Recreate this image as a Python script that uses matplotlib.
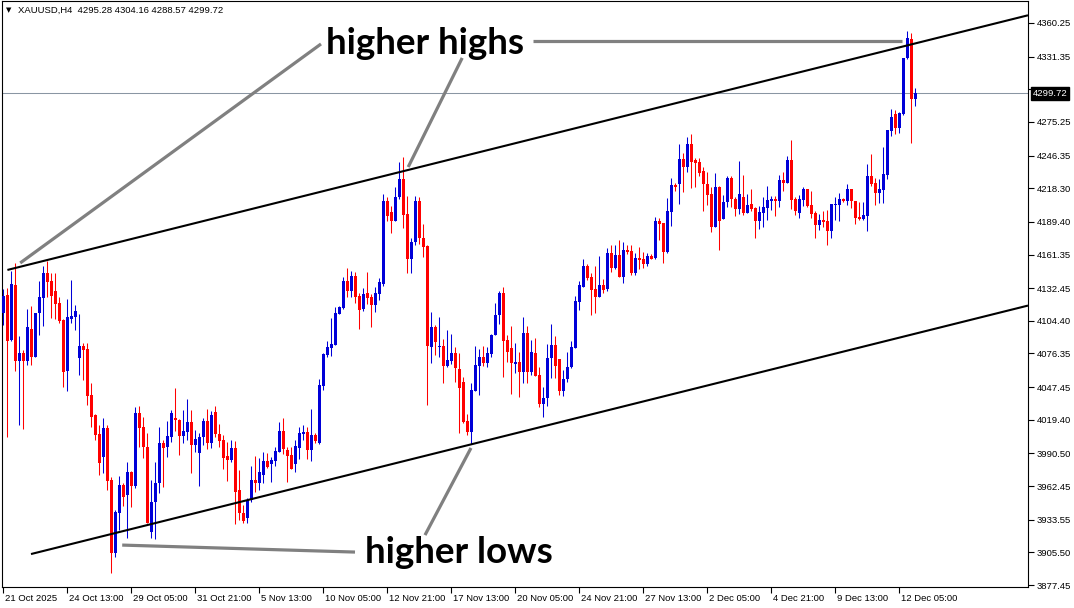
import matplotlib.pyplot as plt
from matplotlib.transforms import blended_transform_factory

# XAUUSD H4 candles, 21 Oct 2025 21:00 -> 12 Dec 2025 21:00
opens = [
    4111.4, 4126.6, 4087.9, 4135.2, 4070.2, 4076.5, 4070.2, 4097.1, 4073.6, 4110.9,
    4124.3, 4145.2, 4138.6, 4130.0, 4120.0, 4105.1, 4061.6, 4106.0, 4108.0, 4072.8,
    4082.8, 4080.2, 4040.7, 4023.5, 4007.2, 3987.7, 4012.1, 3967.7, 3905.3, 3939.6,
    3963.4, 3954.8, 3974.9, 3962.8, 4024.9, 4012.9, 3995.8, 3923.3, 3948.5, 3964.8,
    3999.5, 3995.8, 4004.9, 4021.0, 4019.2, 4005.5, 4009.2, 4017.2, 3997.8, 3990.6,
    4004.3, 4018.4, 3999.2, 4025.8, 4007.2, 4002.1, 3988.6, 3984.9, 3995.5, 3959.1,
    3939.6, 3934.8, 3950.5, 3967.7, 3965.4, 3972.0, 3984.0, 3981.4, 3984.0, 3992.0,
    4009.8, 3993.5, 3989.2, 3981.4, 3995.5, 4007.2, 4008.9, 3993.5, 4006.4, 3999.8,
    4048.7, 4075.1, 4081.4, 4083.7, 4110.3, 4115.7, 4138.6, 4130.3, 4142.9, 4126.0,
    4114.3, 4128.0, 4125.2, 4118.0, 4127.8, 4136.1, 4207.6, 4198.2, 4190.2, 4210.5,
    4226.2, 4196.2, 4157.5, 4171.8, 4207.6, 4175.8, 4169.0, 4082.2, 4099.4, 4081.9,
    4082.8, 4065.9, 4070.2, 4077.1, 4063.1, 4051.6, 4018.4, 4009.2, 4044.4, 4065.9,
    4073.1, 4068.5, 4075.6, 4092.2, 4109.4, 4128.6, 4088.0, 4080.8, 4067.0, 4069.4,
    4060.8, 4094.3, 4060.2, 4077.1, 4057.9, 4033.0, 4037.9, 4072.2, 4083.7, 4071.3,
    4044.4, 4054.2, 4065.1, 4081.4, 4120.9, 4133.8, 4151.8, 4142.4, 4131.8, 4125.2,
    4135.2, 4131.8, 4162.4, 4150.1, 4161.0, 4142.4, 4165.3, 4164.4, 4145.2, 4158.7,
    4157.5, 4153.2, 4160.4, 4158.7, 4190.2, 4188.2, 4163.3, 4197.9, 4221.1, 4221.9,
    4243.4, 4236.8, 4256.3, 4242.6, 4240.6, 4233.1, 4221.7, 4213.4, 4185.3, 4219.1,
    4191.6, 4206.8, 4227.4, 4209.1, 4200.8, 4210.5, 4197.3, 4204.5, 4201.6, 4190.5,
    4197.3, 4201.0, 4207.6, 4209.1, 4207.6, 4225.4, 4223.1, 4242.6, 4209.1, 4197.3,
    4208.2, 4217.7, 4203.9, 4196.8, 4186.7, 4191.0, 4190.2, 4181.6, 4204.2, 4204.2,
    4208.8, 4207.6, 4217.7, 4207.4, 4193.3, 4191.9, 4194.7, 4228.8, 4223.1, 4214.5,
    4216.8, 4229.7, 4267.8, 4282.1, 4270.3, 4281.8, 4329.9, 4346.5, 4295.28,
]
highs = [
    4131.8, 4132.3, 4147.5, 4153.8, 4091.4, 4079.4, 4114.3, 4117.1, 4110.8, 4138.6,
    4151.5, 4156.1, 4145.2, 4145.2, 4124.6, 4105.7, 4122.9, 4139.5, 4118.0, 4110.3,
    4085.1, 4085.1, 4050.7, 4024.4, 4014.9, 4020.7, 4014.9, 3970.6, 3941.9, 3971.1,
    3965.4, 3983.4, 3975.7, 4030.7, 4031.3, 4022.1, 4007.8, 3967.7, 3983.4, 4013.5,
    4002.1, 4018.6, 4027.8, 4047.0, 4019.8, 4027.8, 4037.0, 4027.8, 4010.6, 4007.8,
    4020.7, 4028.7, 4027.3, 4031.3, 4015.8, 4006.4, 4000.6, 4002.1, 4001.2, 3976.3,
    3946.2, 3951.9, 3980.0, 3988.3, 3986.9, 3992.0, 3991.2, 3987.7, 3996.3, 4017.2,
    4020.7, 3996.3, 3996.3, 4002.1, 4012.9, 4014.9, 4012.9, 4028.7, 4007.8, 4054.2,
    4076.5, 4087.1, 4106.6, 4116.6, 4117.2, 4142.3, 4150.1, 4147.2, 4146.6, 4128.0,
    4132.9, 4146.1, 4127.5, 4133.8, 4140.9, 4213.1, 4211.1, 4203.3, 4219.7, 4240.6,
    4245.4, 4211.6, 4175.8, 4211.6, 4211.1, 4187.6, 4169.6, 4111.7, 4100.8, 4108.0,
    4088.5, 4096.5, 4093.1, 4081.7, 4076.5, 4055.9, 4024.4, 4050.7, 4083.1, 4079.9,
    4083.1, 4081.7, 4092.8, 4119.5, 4130.3, 4133.8, 4092.2, 4100.0, 4085.1, 4077.9,
    4108.0, 4100.3, 4088.0, 4089.4, 4065.1, 4047.9, 4084.2, 4101.7, 4091.4, 4071.3,
    4062.2, 4077.9, 4087.4, 4125.8, 4138.9, 4157.2, 4152.9, 4145.8, 4151.8, 4160.1,
    4140.1, 4167.3, 4169.6, 4169.6, 4173.9, 4171.8, 4169.6, 4169.6, 4163.0, 4168.1,
    4163.8, 4163.0, 4161.5, 4193.3, 4192.5, 4188.7, 4209.6, 4226.8, 4222.5, 4256.3,
    4248.3, 4262.6, 4264.9, 4244.6, 4244.6, 4236.8, 4232.0, 4219.7, 4231.7, 4220.2,
    4212.5, 4229.1, 4228.8, 4211.1, 4241.7, 4229.7, 4213.4, 4217.4, 4201.9, 4203.0,
    4210.5, 4220.2, 4211.9, 4211.9, 4229.7, 4232.0, 4246.0, 4259.7, 4210.5, 4212.5,
    4219.1, 4217.7, 4215.9, 4199.0, 4195.9, 4198.8, 4199.6, 4204.8, 4211.1, 4213.9,
    4209.6, 4221.9, 4217.7, 4207.4, 4206.8, 4206.8, 4238.8, 4247.7, 4226.8, 4226.3,
    4253.5, 4268.3, 4286.1, 4285.5, 4284.1, 4330.5, 4353.4, 4351.4, 4304.16,
]
lows = [
    4100.8, 4004.9, 4087.4, 4061.6, 4014.9, 4011.5, 4066.5, 4066.5, 4073.1, 4092.2,
    4100.0, 4125.2, 4106.6, 4105.7, 4102.8, 4047.9, 4044.4, 4102.8, 4096.5, 4057.9,
    4053.6, 4032.1, 4013.5, 4002.1, 3972.0, 3974.0, 3959.1, 3887.5, 3901.3, 3924.8,
    3945.4, 3917.6, 3944.8, 3960.5, 3996.3, 3986.3, 3931.0, 3917.6, 3916.7, 3956.3,
    3961.4, 3987.7, 4000.6, 4010.1, 3989.2, 3999.2, 4002.1, 3973.4, 3992.0, 3962.8,
    3997.8, 3994.0, 3994.9, 4004.9, 3996.3, 3976.9, 3967.1, 3982.9, 3929.9, 3933.3,
    3930.5, 3930.5, 3949.1, 3957.1, 3959.1, 3964.8, 3977.7, 3965.7, 3980.0, 3992.0,
    3989.7, 3966.3, 3977.2, 3974.9, 3986.0, 4002.1, 3985.5, 3984.3, 3999.2, 3998.6,
    4045.0, 4073.6, 4074.5, 4083.7, 4110.3, 4114.6, 4125.2, 4125.2, 4120.0, 4097.4,
    4112.9, 4118.9, 4099.4, 4112.3, 4122.3, 4134.6, 4190.2, 4180.1, 4190.2, 4208.8,
    4184.4, 4145.8, 4145.8, 4169.6, 4170.4, 4159.5, 4032.1, 4068.5, 4075.1, 4073.1,
    4050.7, 4065.1, 4067.0, 4052.2, 4007.8, 4016.4, 4006.4, 3998.6, 4044.4, 4040.7,
    4065.9, 4065.1, 4073.6, 4092.2, 4101.4, 4055.9, 4069.4, 4041.6, 4059.3, 4039.3,
    4051.3, 4050.7, 4057.9, 4057.0, 4030.1, 4022.1, 4031.3, 4055.0, 4055.0, 4040.7,
    4040.2, 4052.2, 4063.6, 4080.8, 4113.7, 4133.8, 4139.5, 4109.4, 4111.4, 4124.6,
    4128.6, 4130.0, 4146.6, 4149.0, 4142.4, 4137.2, 4161.5, 4143.8, 4143.8, 4148.7,
    4149.5, 4151.8, 4157.2, 4157.5, 4173.9, 4153.8, 4163.0, 4185.9, 4216.2, 4204.8,
    4215.4, 4232.5, 4218.8, 4219.7, 4228.8, 4199.0, 4203.9, 4181.0, 4184.7, 4165.3,
    4191.6, 4202.5, 4201.9, 4194.5, 4196.2, 4195.3, 4197.3, 4199.0, 4175.3, 4183.0,
    4185.3, 4191.0, 4199.6, 4194.8, 4201.9, 4216.2, 4222.5, 4200.2, 4195.3, 4192.5,
    4203.0, 4201.9, 4192.5, 4175.8, 4182.4, 4185.3, 4169.6, 4175.8, 4191.0, 4190.2,
    4206.8, 4203.9, 4201.0, 4187.6, 4191.0, 4191.0, 4181.9, 4220.2, 4203.9, 4205.3,
    4205.3, 4226.0, 4263.2, 4264.6, 4265.5, 4281.2, 4329.0, 4257.5, 4288.57,
]
closes = [
    4125.7, 4087.4, 4136.1, 4070.2, 4076.5, 4070.2, 4098.8, 4073.6, 4110.8, 4124.6,
    4145.2, 4138.0, 4125.7, 4118.9, 4104.3, 4060.7, 4108.0, 4108.6, 4112.9, 4082.8,
    4079.4, 4040.1, 4022.1, 4006.4, 3982.0, 4012.1, 3967.1, 3905.3, 3940.2, 3963.4,
    3953.4, 3974.6, 3962.8, 4025.5, 4012.7, 3995.8, 3931.0, 3948.5, 3964.8, 3999.5,
    3995.5, 4005.5, 4025.0, 4019.2, 4005.5, 4009.8, 4017.2, 3997.8, 4002.9, 4004.6,
    4018.4, 3999.2, 4023.5, 4006.9, 4001.2, 3986.9, 3984.9, 3995.5, 3957.7, 3939.1,
    3932.8, 3950.5, 3967.7, 3965.4, 3974.9, 3984.0, 3979.2, 3984.9, 3992.6, 4009.8,
    3994.0, 3988.6, 3977.2, 3996.9, 4008.4, 4008.9, 3993.5, 4006.4, 4001.5, 4049.3,
    4075.6, 4081.6, 4084.5, 4111.4, 4116.6, 4138.9, 4130.3, 4142.9, 4125.2, 4113.7,
    4127.5, 4124.3, 4118.0, 4128.0, 4137.8, 4207.6, 4194.5, 4190.5, 4211.1, 4226.2,
    4195.3, 4157.5, 4171.8, 4207.6, 4175.3, 4168.1, 4083.1, 4098.8, 4085.9, 4082.8,
    4065.9, 4070.8, 4077.1, 4063.6, 4046.4, 4017.8, 4009.2, 4045.0, 4066.5, 4073.1,
    4067.9, 4077.1, 4092.2, 4109.4, 4128.6, 4087.4, 4077.9, 4068.5, 4068.8, 4060.8,
    4094.3, 4060.2, 4077.4, 4057.3, 4033.0, 4038.4, 4072.8, 4083.7, 4065.9, 4044.4,
    4054.5, 4065.1, 4081.7, 4121.5, 4135.2, 4151.5, 4141.5, 4130.9, 4125.2, 4135.2,
    4130.9, 4162.4, 4150.1, 4161.0, 4142.4, 4165.3, 4163.8, 4145.2, 4158.7, 4156.7,
    4153.2, 4160.1, 4157.5, 4190.2, 4187.6, 4163.8, 4198.8, 4221.1, 4219.7, 4243.4,
    4236.8, 4256.3, 4240.6, 4240.3, 4231.7, 4221.7, 4212.5, 4185.3, 4219.1, 4190.5,
    4206.8, 4226.8, 4208.8, 4200.8, 4213.4, 4197.3, 4203.9, 4200.8, 4190.5, 4197.9,
    4201.9, 4208.2, 4209.1, 4207.6, 4225.4, 4223.1, 4242.6, 4208.2, 4199.0, 4209.1,
    4217.7, 4203.3, 4196.2, 4186.7, 4191.0, 4189.6, 4181.6, 4204.8, 4204.8, 4209.1,
    4207.3, 4217.7, 4207.6, 4193.0, 4191.9, 4195.3, 4228.8, 4221.9, 4214.5, 4217.7,
    4230.6, 4268.3, 4279.8, 4270.3, 4283.2, 4330.5, 4347.6, 4294.7, 4299.72,
]

date_labels = ['21 Oct 2025', '24 Oct 13:00', '29 Oct 05:00', '31 Oct 21:00', '5 Nov 13:00',
               '10 Nov 05:00', '12 Nov 21:00', '17 Nov 13:00', '20 Nov 05:00', '24 Nov 21:00',
               '27 Nov 13:00', '2 Dec 05:00', '4 Dec 21:00', '9 Dec 13:00', '12 Dec 05:00']
date_bars = [0, 16, 32, 48, 64, 80, 96, 112, 128, 144, 160, 176, 192, 208, 224]
price_ticks = [3877.45, 3905.50, 3933.55, 3962.45, 3990.50, 4019.40, 4047.45, 4076.35, 4104.40,
               4132.45, 4161.35, 4189.40, 4218.30, 4246.35, 4275.25, 4303.30, 4331.35, 4360.25]
last_price = 4299.72

# channel rays: two anchors each (bar index, price)
upper_channel = [(1.0, 4148.1), (214.0, 4330.7)]
lower_channel = [(6.9, 3904.1), (85.5, 3971.4)]

# annotation pointer lines (bar index, price)
highs_pointers = [[(4.2, 4154.1), (79.4, 4342.2)],
                  [(114.7, 4330.2), (101.2, 4236.5)],
                  [(132.4, 4344.8), (224.7, 4344.8)]]
lows_pointers = [[(29.7, 3911.8), (87.9, 3905.8)],
                 [(105.4, 3920.4), (116.9, 3995.2)]]

BLUE = '#0000d8'
RED = '#ff0000'
small = dict(family='Liberation Sans', fontsize=6.8)

fig = plt.figure(figsize=(10.74, 6.08), dpi=100)
ax = fig.add_axes([2 / 1074, 21 / 608, 1026 / 1074, 586 / 608])

n = len(opens)
x = list(range(n))
cols = [BLUE if c >= o else RED for o, c in zip(opens, closes)]
ax.vlines(x, lows, highs, colors=cols, lw=0.75, zorder=2)
bottoms = [min(o, c) for o, c in zip(opens, closes)]
heights = [max(abs(c - o), 0.9) for o, c in zip(opens, closes)]
ax.bar(x, heights, bottom=bottoms, width=0.68, color=cols, linewidth=0, zorder=3)

xmin, xmax = -0.35, 256.15
ax.set_xlim(xmin, xmax)
ax.set_ylim(3875.8, 4379.1)

for (x0, y0), (x1, y1) in (upper_channel, lower_channel):
    k = (y1 - y0) / (x1 - x0)
    ax.plot([x0, xmax], [y0, y0 + k * (xmax - x0)], color='black', lw=1.5,
            solid_capstyle='butt', zorder=4)

for seg in highs_pointers + lows_pointers:
    ax.plot([seg[0][0], seg[1][0]], [seg[0][1], seg[1][1]], color='#808080', lw=2.3,
            solid_capstyle='butt', zorder=4)

ax.text(105.4, 4342.5, 'higher highs', family='Lato', fontweight='bold', fontsize=26.5,
        ha='center', va='center', zorder=5)
ax.text(113.8, 3905.5, 'higher lows', family='Lato', fontweight='bold', fontsize=26.5,
        ha='center', va='center', zorder=5)

# bid line and price box
ax.axhline(last_price, color='#8a96a3', lw=0.75, zorder=1)

for s in ax.spines.values():
    s.set_linewidth(0.8)
    s.set_color('black')

ax.yaxis.tick_right()
ax.set_yticks(price_ticks)
ax.set_yticklabels(['%.2f' % p for p in price_ticks], **small)
ax.tick_params(axis='y', direction='out', length=4, width=0.8, pad=2)
ax.set_xticks(date_bars)
ax.set_xticklabels([])
ax.tick_params(axis='x', direction='out', length=4, width=0.8)
trans = blended_transform_factory(ax.transData, ax.transAxes)
for b, lab in zip(date_bars, date_labels):
    ax.text(b + 0.4, -0.019, lab, transform=trans, ha='left', va='center', **small)

ax.annotate('%.2f' % last_price, xy=(1, last_price),
            xycoords=blended_transform_factory(ax.transAxes, ax.transData),
            xytext=(3.2, 0), textcoords='offset points', ha='left', va='center',
            color='white', bbox=dict(boxstyle='square,pad=0.18', fc='black', ec='black'),
            zorder=10, **small)

fig.text(6 / 1074, 1 - 10 / 608, '\u25bc', fontsize=5, va='center', ha='left')
fig.text(18 / 1074, 1 - 10 / 608,
         'XAUUSD,H4  %.2f %.2f %.2f %.2f' % (opens[-1], highs[-1], lows[-1], closes[-1]),
         va='center', ha='left', **small)

fig.savefig('out.png', dpi=100)
